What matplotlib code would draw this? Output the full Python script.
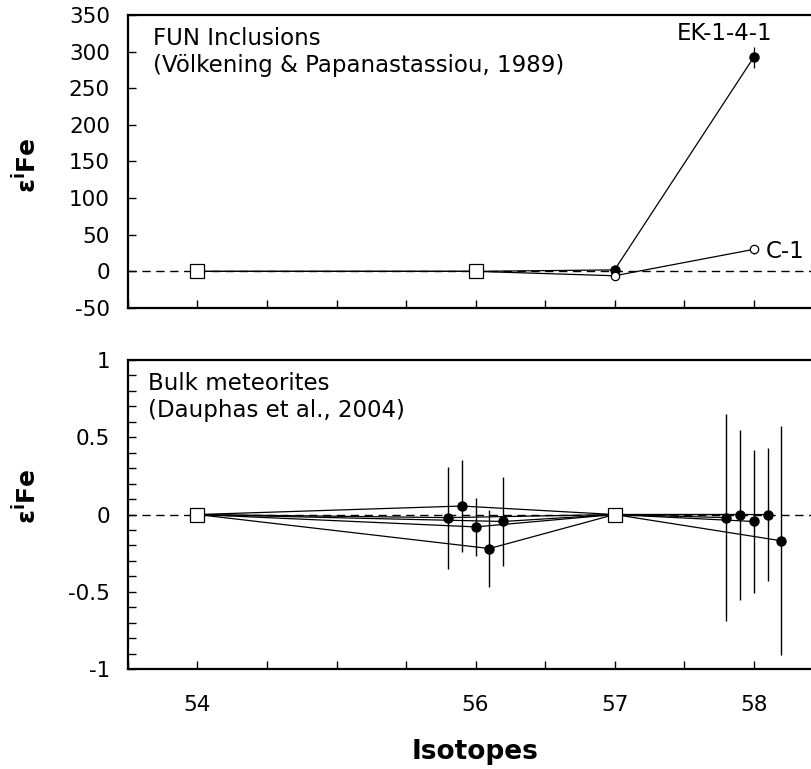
import matplotlib
matplotlib.use("Agg")
import matplotlib.pyplot as plt
from matplotlib.ticker import FixedLocator, MultipleLocator, NullFormatter

# ---------------- data ----------------
# Top panel: FUN inclusions (Völkening & Papanastassiou, 1989)
fun_norm_iso = [54, 56]
fun_norm_val = [0, 0]
fun_iso = [54, 56, 57, 58]
ek_val = [0, 0, 2, 292]
ek_err = [0, 0, 0, 14]
c1_val = [0, 0, -6, 30]
c1_err = [0, 0, 0, 6]

# Bottom panel: bulk meteorites (Dauphas et al., 2004)
bulk_norm_iso = [54, 57]
bulk_norm_val = [0, 0]
bulk_x56 = [55.8, 55.9, 56.0, 56.1, 56.2]
bulk_e56 = [-0.02, 0.055, -0.08, -0.22, -0.045]
bulk_err56 = [0.33, 0.30, 0.19, 0.25, 0.29]
bulk_x58 = [57.8, 57.9, 58.0, 58.1, 58.2]
bulk_e58 = [-0.02, 0.0, -0.045, 0.0, -0.17]
bulk_err58 = [0.67, 0.55, 0.46, 0.43, 0.74]

xtick_labels = ["54", "56", "57", "58"]
xtick_major = [54, 56, 57, 58]

# ---------------- figure ----------------
plt.rcParams['font.family'] = ['DejaVu Sans']
plt.rcParams['axes.unicode_minus'] = False
fig = plt.figure(figsize=(8.12, 7.69), dpi=100)
ax1 = fig.add_axes([0.1576, 0.5995, 0.8424, 0.3810])
ax2 = fig.add_axes([0.1576, 0.1300, 0.8424, 0.4018])

XMIN, XMAX = 53.5, 58.42
tick_fs = 15.5
text_fs = 16.5

for ax in (ax1, ax2):
    ax.set_xlim(XMIN, XMAX)
    ax.spines['right'].set_visible(False)
    for s in ('left', 'top', 'bottom'):
        ax.spines[s].set_linewidth(1.6)
    ax.axhline(0, color='black', lw=1.0, ls=(0, (6, 4)), zorder=1)
    ax.xaxis.set_major_locator(FixedLocator(xtick_major))
    ax.xaxis.set_minor_locator(MultipleLocator(0.5))
    ax.tick_params(axis='both', which='both', direction='in', length=5.5,
                   width=1.0, labelsize=tick_fs, top=False, right=False)
    ax.tick_params(axis='x', pad=19)
    ax.tick_params(axis='y', pad=13)

# ---- top panel ----
ax1.set_ylim(-50, 350)
ax1.yaxis.set_major_locator(MultipleLocator(50))
ax1.xaxis.set_major_formatter(NullFormatter())
ax1.errorbar(fun_iso, ek_val, yerr=ek_err, color='black', lw=0.9,
             elinewidth=0.9, capsize=0, marker='o', ms=6.5, mfc='black',
             mec='black', zorder=3)
ax1.errorbar(fun_iso, c1_val, yerr=c1_err, color='black', lw=0.9,
             elinewidth=0.9, capsize=0, marker='o', ms=6, mfc='white',
             mec='black', mew=0.9, zorder=3)
ax1.plot(fun_norm_iso, fun_norm_val, ls='none', marker='s', ms=10,
         mfc='white', mec='black', mew=0.9, zorder=5)
ax1.text(0.0365, 0.8976, "FUN Inclusions", transform=ax1.transAxes,
         fontsize=text_fs, va='baseline', ha='left')
ax1.text(0.0365, 0.805, "(Völkening & Papanastassiou, 1989)",
         transform=ax1.transAxes, fontsize=text_fs, va='baseline', ha='left')
ax1.text(57.79, 316, "EK-1-4-1", fontsize=text_fs, ha='center', va='baseline')
ax1.text(58.09, 27, "C-1", fontsize=text_fs, ha='left', va='center')

# ---- bottom panel ----
ax2.set_ylim(-1, 1)
ax2.yaxis.set_major_locator(MultipleLocator(0.5))
ax2.yaxis.set_minor_locator(MultipleLocator(0.1))
ax2.set_yticks([-1, -0.5, 0, 0.5, 1])
ax2.set_yticklabels(["-1", "-0.5", "0", "0.5", "1"])
ax2.set_xticklabels(xtick_labels)
for i in range(len(bulk_x56)):
    xs = [54, bulk_x56[i], 57, bulk_x58[i]]
    ys = [0, bulk_e56[i], 0, bulk_e58[i]]
    ax2.plot(xs, ys, color='black', lw=0.9, zorder=2)
ax2.errorbar(bulk_x56, bulk_e56, yerr=bulk_err56, ls='none', color='black',
             elinewidth=1.0, capsize=0, marker='o', ms=6.5, zorder=3)
ax2.errorbar(bulk_x58, bulk_e58, yerr=bulk_err58, ls='none', color='black',
             elinewidth=1.0, capsize=0, marker='o', ms=6.5, zorder=3)
ax2.plot(bulk_norm_iso, bulk_norm_val, ls='none', marker='s', ms=10,
         mfc='white', mec='black', mew=0.9, zorder=5)
ax2.text(0.0292, 0.903, "Bulk meteorites", transform=ax2.transAxes,
         fontsize=text_fs, va='baseline', ha='left')
ax2.text(0.0292, 0.8155, "(Dauphas et al., 2004)", transform=ax2.transAxes,
         fontsize=text_fs, va='baseline', ha='left')

# ---- axis labels ----
ylab = "ε$^{\\mathbf{i}}$Fe"
ax1.set_ylabel(ylab, fontsize=18, fontweight='bold')
ax2.set_ylabel(ylab, fontsize=18, fontweight='bold')
ax1.yaxis.set_label_coords(-0.126, 0.488)
ax2.yaxis.set_label_coords(-0.126, 0.56)
ax2.set_xlabel("Isotopes", fontsize=19, fontweight='bold')
ax2.xaxis.set_label_coords(0.5 + (475 - 470) / 684, -0.225)

fig.savefig("out.png", dpi=100)
